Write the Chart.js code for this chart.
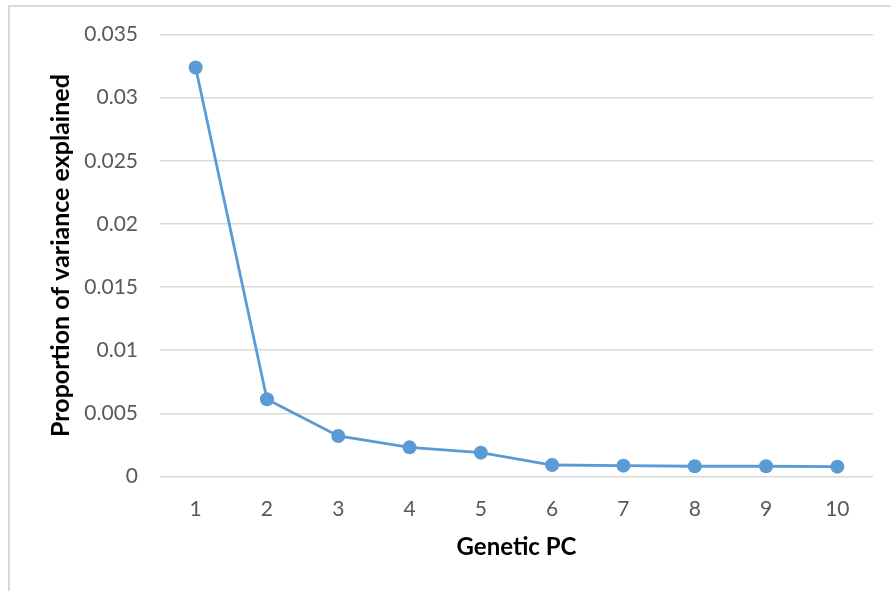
<!DOCTYPE html>
<html lang="en">
<head>
    <meta charset="UTF-8">
    <title>Proportion of variance explained</title>
    <script src="https://cdn.jsdelivr.net/npm/chart.js"></script>
    <style>
        html, body { margin: 0; padding: 0; background: #fff; }
        #wrap { position: relative; width: 891px; height: 591px; }
    </style>
</head>
<body>
    <div id="wrap"><canvas id="pcChart" width="891" height="591"></canvas></div>

    <script>
        // Data
        const pcLabels = ['1', '2', '3', '4', '5', '6', '7', '8', '9', '10'];
        const varianceExplained = [0.0324, 0.00612, 0.00321, 0.00231, 0.00189, 0.00091, 0.00086, 0.00081, 0.00081, 0.00078];
        const yTicks = [0, 0.005, 0.01, 0.015, 0.02, 0.025, 0.03, 0.035];

        const fontFamily = 'Lato, "Open Sans", sans-serif';

        // light gray frame round the chart, as in the spreadsheet export
        const framePlugin = {
            id: 'frame',
            beforeDraw(chart) {
                const ctx = chart.ctx;
                ctx.save();
                ctx.strokeStyle = '#d9d9d9';
                ctx.lineWidth = 2;
                ctx.strokeRect(9, 6, 1000, 1000);
                ctx.restore();
            }
        };

        const ctx = document.getElementById('pcChart').getContext('2d');
        new Chart(ctx, {
            type: 'line',
            data: {
                labels: pcLabels,
                datasets: [{
                    label: 'Proportion of variance explained',
                    data: varianceExplained,
                    borderColor: '#5b9bd5',
                    backgroundColor: '#5b9bd5',
                    borderWidth: 2.8,
                    pointRadius: 7,
                    pointHoverRadius: 7,
                    pointBorderWidth: 0,
                    tension: 0
                }]
            },
            options: {
                responsive: false,
                animation: false,
                layout: { padding: { left: 46, right: 18, top: 29, bottom: 29 } },
                plugins: {
                    legend: { display: false },
                    tooltip: { enabled: false }
                },
                scales: {
                    x: {
                        offset: true,
                        afterFit: function(axis) { axis.height = 85.5; },
                        grid: { display: false, drawTicks: false },
                        border: { display: false },
                        ticks: { color: '#595959', font: { family: fontFamily, size: 21 }, padding: 20 },
                        title: {
                            display: true,
                            text: 'Genetic PC',
                            color: '#000',
                            font: { family: fontFamily, size: 24, weight: 'bold' },
                            padding: { top: 12, bottom: 0 }
                        }
                    },
                    y: {
                        min: 0,
                        max: 0.035,
                        afterFit: function(axis) { axis.width = 114; },
                        afterBuildTicks: function(axis) {
                            axis.ticks = yTicks.map(v => ({ value: v }));
                        },
                        grid: { color: '#d9d9d9', lineWidth: 1.5, drawTicks: false },
                        border: { display: false },
                        ticks: {
                            color: '#595959',
                            font: { family: fontFamily, size: 21 },
                            padding: 22,
                            callback: function(value) {
                                return String(Number(value.toFixed(3)));
                            }
                        },
                        title: {
                            display: true,
                            text: 'Proportion of variance explained',
                            color: '#000',
                            font: { family: fontFamily, size: 25, weight: 'bold' },
                            padding: { top: 0, bottom: 8 }
                        }
                    }
                }
            },
            plugins: [framePlugin]
        });
    </script>
</body>
</html>
